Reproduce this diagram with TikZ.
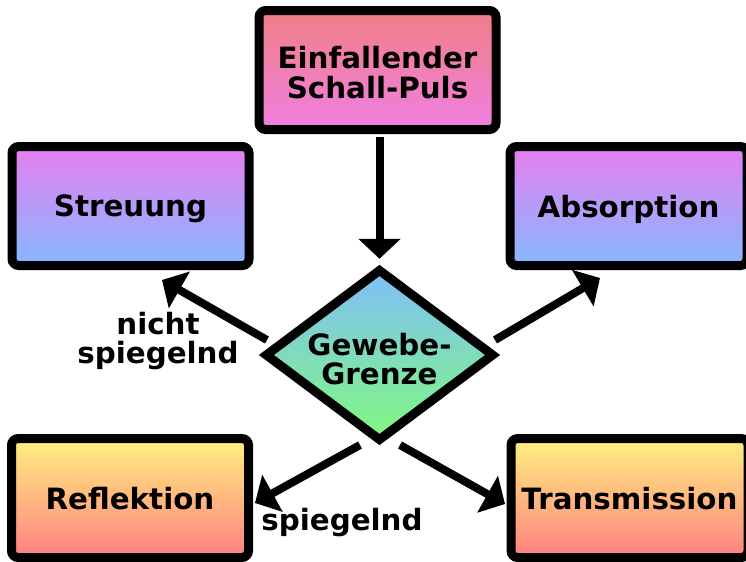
\documentclass[tikz,border=0pt]{standalone}
\usepackage{fontspec}
\setmainfont{DejaVu Sans}
\usetikzlibrary{shapes.geometric,arrows.meta}
\definecolor{pinktop}{HTML}{F07F86}
\definecolor{pinkbot}{HTML}{F07FE2}
\definecolor{violtop}{HTML}{E67FF0}
\definecolor{violbot}{HTML}{86B8FF}
\definecolor{bluetop}{HTML}{7FBFF8}
\definecolor{greenbot}{HTML}{80F880}
\definecolor{yellowtop}{HTML}{FFF07F}
\definecolor{redbot}{HTML}{FF8080}

\begin{document}
\begin{tikzpicture}[x=0.75pt, y=-0.75pt,
  txt/.style={font=\bfseries\fontsize{22}{22}\selectfont, align=center},
  box/.style={txt, draw, line width=6.75pt, rounded corners=5pt, minimum width=177.75pt, minimum height=89.25pt, text depth=0pt},
  lbl/.style={txt, inner sep=0pt},
  pfeil/.style={-{Triangle[length=15pt,width=31pt]}, line width=6pt}]
  \useasboundingbox (0,0) rectangle (746,561);
  \node[box, top color=pinktop, bottom color=pinkbot, text height=42pt] (einfall) at (377.5,70) {Einfallender\\Schall-Puls};
  \node[box, top color=violtop, bottom color=violbot] (streu) at (130.5,206) {Streuung};
  \node[box, top color=violtop, bottom color=violbot] (absorp) at (628.5,206) {Absorption};
  \node[box, top color=yellowtop, bottom color=redbot] (reflex) at (130,498) {Reflektion};
  \node[box, top color=yellowtop, bottom color=redbot] (trans) at (629.5,498) {Transmission};
  \node[txt, draw, diamond, aspect=1.33, line width=6.75pt, inner sep=0pt, minimum width=172.5pt, minimum height=129.6pt, text height=44pt, text depth=0pt, top color=bluetop, bottom color=greenbot] (grenze) at (379.5,355) {Gewebe-\\Grenze};
  \node[lbl] (lbnicht) at (158,341) {nicht\\spiegelnd};
  \node[lbl] (lbspieg) at (342,523) {spiegelnd};
  \draw[pfeil, shorten <=2pt, shorten >=4pt] (einfall.south -| grenze.north) -- (grenze.north);
  \draw[pfeil] ([shift={(-112.5,-15)}]grenze.center) -- ([shift={(31.5,74)}]streu.center);
  \draw[pfeil] ([shift={(115.5,-15)}]grenze.center) -- ([shift={(-28.5,72)}]absorp.center);
  \draw[pfeil] ([shift={(-19.5,90)}]grenze.center) -- ([shift={(125,5)}]reflex.center);
  \draw[pfeil] ([shift={(20.5,90)}]grenze.center) -- ([shift={(-124.5,6)}]trans.center);
\end{tikzpicture}
\end{document}
